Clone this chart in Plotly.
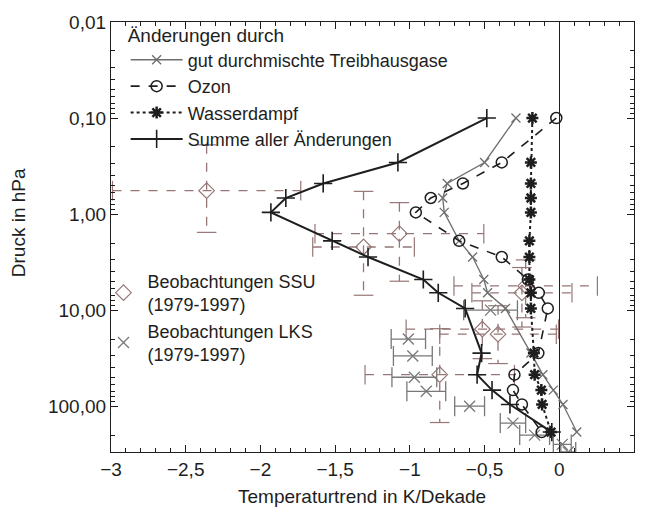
import plotly.graph_objects as go
import numpy as np

# ---------------- data ----------------
p_levels = [0.1, 0.29, 0.48, 0.68, 0.96, 1.9, 2.8, 4.8, 6.6, 9.6, 28, 47, 68, 96, 186]
sum_all = [-0.485, -1.08, -1.58, -1.83, -1.93, -1.52, -1.28, -0.91, -0.81, -0.63, -0.52, -0.55, -0.45, -0.33, -0.05]
ghg = [-0.29, -0.50, -0.75, -0.78, -0.77, -0.67, -0.58, -0.505, -0.48, -0.36, -0.19, -0.11, -0.04, 0.025, 0.117]
ozone = [-0.02, -0.385, -0.645, -0.86, -0.96, -0.67, -0.385, -0.21, -0.137, -0.077, -0.14, -0.30, -0.31, -0.25, -0.118]
water = [-0.18, -0.19, -0.19, -0.19, -0.19, -0.20, -0.20, -0.20, -0.19, -0.19, -0.17, -0.165, -0.12, -0.115, -0.055]

# SSU observations: trend, pressure, +/- trend error, pressure range
ssu_x = [-2.36, -1.07, -1.31, -0.225, -0.25, -0.515, -0.41, -0.80]
ssu_p = [0.57, 1.6, 2.2, 5.6, 6.6, 15.8, 17.8, 47]
ssu_xerr = [0.63, 0.565, 0.34, 0.48, 0.335, 0.51, 0.39, 0.50]
ssu_plo = [0.19, 0.76, 0.58, 3.0, 3.6, 8.0, 9.0, 15.6]
ssu_phi = [1.55, 5.0, 7.0, 12, 15, 32, 36, 148]

# LKS radiosonde observations
lks_p = [10, 20, 30, 50, 70, 100, 150, 200, 250, 300]
lks_x = [-0.46, -1.01, -0.98, -0.97, -0.89, -0.60, -0.31, -0.165, 0.02, 0.06]
lks_xerr = [0.18, 0.115, 0.13, 0.15, 0.13, 0.10, 0.085, 0.10, 0.06, 0.05]

xtick_vals = [-3, -2.5, -2, -1.5, -1, -0.5, 0, 0.5]
xtick_text = ["\u22123", "\u22122,5", "\u22122", "\u22121,5", "\u22121", "\u22120,5", "0", "0,5"]
ytick_vals = [0.01, 0.1, 1, 10, 100]
ytick_text = ["0,01", "0,10", "1,00", "10,00", "100,00"]

names_model = ["gut durchmischte Treibhausgase", "Ozon", "Wasserdampf", "Summe aller \u00c4nderungen"]
legend_title = "\u00c4nderungen durch"
names_obs = ["Beobachtungen SSU<br>(1979-1997)", "Beobachtungen LKS<br>(1979-1997)"]

# ---------------- styles ----------------
ink = "#1e1e1e"
ssu_col = "rgb(150,118,118)"
lks_col = "rgb(120,120,120)"
font_family = "Liberation Sans, Arial, Helvetica, sans-serif"

fig = go.Figure()

# SSU dashed error bars (built from data arrays)
hx, hy, vx, vy = [], [], [], []
cap_hx, cap_hy, cap_vx, cap_vy = [], [], [], []
for x, p, xe, lo, hi in zip(ssu_x, ssu_p, ssu_xerr, ssu_plo, ssu_phi):
    hx += [x - xe, x + xe, None]
    hy += [p, p, None]
    vx += [x, x, None]
    vy += [lo, hi, None]
    cap_hx += [x - xe, x + xe]
    cap_hy += [p, p]
    cap_vx += [x, x]
    cap_vy += [lo, hi]

fig.add_trace(go.Scatter(x=hx, y=hy, mode="lines", line=dict(color=ssu_col, width=1.3, dash="dash"),
                         showlegend=False, hoverinfo="skip"))
fig.add_trace(go.Scatter(x=vx, y=vy, mode="lines", line=dict(color=ssu_col, width=1.3, dash="dash"),
                         showlegend=False, hoverinfo="skip"))
fig.add_trace(go.Scatter(x=cap_hx, y=cap_hy, mode="markers",
                         marker=dict(symbol="line-ns", size=14, line=dict(color=ssu_col, width=1.2)),
                         showlegend=False, hoverinfo="skip"))
fig.add_trace(go.Scatter(x=cap_vx, y=cap_vy, mode="markers",
                         marker=dict(symbol="line-ew", size=14, line=dict(color=ssu_col, width=1.2)),
                         showlegend=False, hoverinfo="skip"))

# Observations markers (legend2)
fig.add_trace(go.Scatter(x=ssu_x, y=ssu_p, mode="markers", name=names_obs[0], legend="legend2",
                         marker=dict(symbol="diamond-open", size=12, color=ssu_col,
                                     line=dict(color=ssu_col, width=1.2))))
fig.add_trace(go.Scatter(x=lks_x, y=lks_p, mode="markers", name=names_obs[1], legend="legend2",
                         marker=dict(symbol="x-thin", size=11, color=lks_col,
                                     line=dict(color=lks_col, width=1.3)),
                         error_x=dict(type="data", array=lks_xerr, color=lks_col, thickness=1.3, width=10)))

# Model curves (legend)
fig.add_trace(go.Scatter(x=ghg, y=p_levels, mode="lines+markers", name=names_model[0],
                         line=dict(color="rgb(110,110,110)", width=1.3),
                         marker=dict(symbol="x-thin", size=9, color="rgb(110,110,110)",
                                     line=dict(color="rgb(110,110,110)", width=1.3))))
fig.add_trace(go.Scatter(x=ozone, y=p_levels, mode="lines+markers", name=names_model[1],
                         line=dict(color=ink, width=1.6, dash="dash"),
                         marker=dict(symbol="circle-open", size=11, color=ink,
                                     line=dict(color=ink, width=1.5))))
fig.add_trace(go.Scatter(x=water, y=p_levels, mode="lines+markers", name=names_model[2],
                         line=dict(color=ink, width=2, dash="dot"),
                         marker=dict(symbol="asterisk-open", size=10, color=ink,
                                     line=dict(color=ink, width=2.5))))
fig.add_trace(go.Scatter(x=sum_all, y=p_levels, mode="lines+markers", name=names_model[3],
                         line=dict(color=ink, width=2),
                         marker=dict(symbol="cross-thin", size=13, color=ink,
                                     line=dict(color=ink, width=1.6))))

minor_y = [m * 10.0 ** e for e in range(-2, 3) for m in range(2, 10) if m * 10.0 ** e <= 300]

fig.update_layout(
    width=647, height=515,
    margin=dict(l=111, r=12, t=17, b=63),
    paper_bgcolor="white", plot_bgcolor="white",
    font=dict(family=font_family, size=19, color=ink),
    xaxis=dict(range=[-3, 0.5], tickvals=xtick_vals, ticktext=xtick_text,
               ticks="inside", ticklen=7, tickwidth=1, tickcolor=ink,
               showline=True, linecolor=ink, linewidth=1.2, mirror="allticks",
               showgrid=False, zeroline=True, zerolinecolor=ink, zerolinewidth=1.2,
               tickfont=dict(size=19),
               minor=dict(dtick=0.1, tick0=0, ticks="inside", ticklen=4, tickcolor=ink, showgrid=False)),
    yaxis=dict(type="log", range=[np.log10(300), -2], tickvals=ytick_vals, ticktext=ytick_text,
               ticks="inside", ticklen=7, tickwidth=1, tickcolor=ink,
               showline=True, linecolor=ink, linewidth=1.2, mirror="allticks",
               showgrid=False, zeroline=False, tickfont=dict(size=19),
               minor=dict(tickvals=minor_y, ticks="inside", ticklen=4, tickcolor=ink, showgrid=False)),
    legend=dict(title=dict(text=legend_title, font=dict(size=19)),
                x=0.028, y=1.012, xanchor="left", yanchor="top",
                bgcolor="rgba(0,0,0,0)", font=dict(size=18), tracegroupgap=0, itemwidth=52),
    legend2=dict(x=-0.022, y=0.44, xanchor="left", yanchor="top",
                 bgcolor="rgba(0,0,0,0)", font=dict(size=18), tracegroupgap=0, itemwidth=38),
    annotations=[
        dict(text="Druck in hPa", xref="paper", yref="paper", x=-0.177, y=0.533,
             xanchor="center", yanchor="middle", textangle=-90, showarrow=False,
             font=dict(size=19)),
        dict(text="Temperaturtrend in K/Dekade", xref="paper", yref="paper", x=0.479, y=-0.103,
             xanchor="center", yanchor="middle", showarrow=False, font=dict(size=19)),
    ],
)

fig.write_html("out.html")
